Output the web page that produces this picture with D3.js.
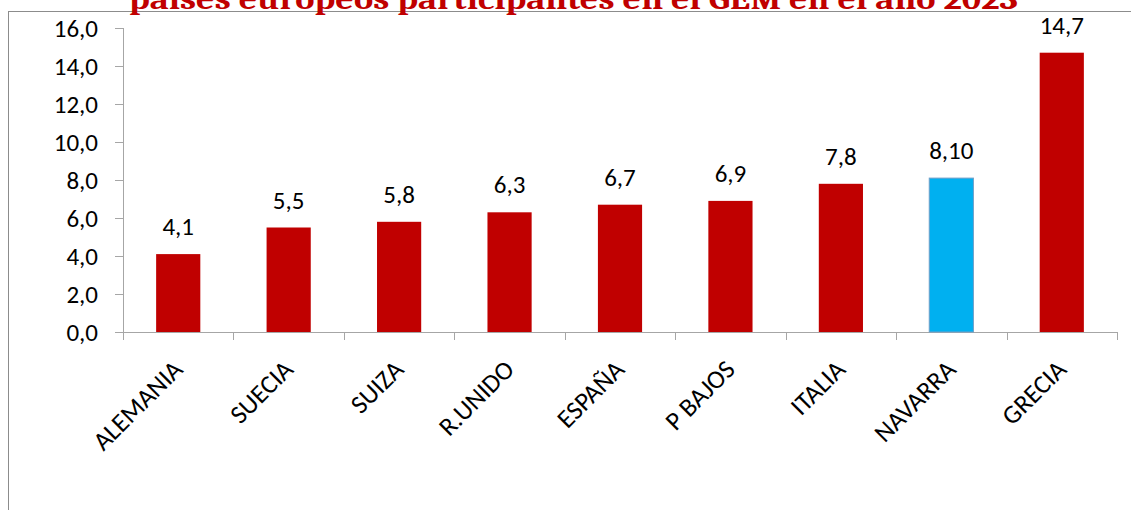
<!DOCTYPE html>
<html>
<head>
<meta charset="utf-8">
<script src="https://cdn.jsdelivr.net/npm/d3@7/dist/d3.min.js"></script>
<style>
  html, body { margin: 0; padding: 0; background: #fff; }
  svg { display: block; }
</style>
</head>
<body>
<div id="chart"></div>
<script>
// chart data
var categories = ['ALEMANIA', 'SUECIA', 'SUIZA', 'R.UNIDO', 'ESPAÑA', 'P BAJOS', 'ITALIA', 'NAVARRA', 'GRECIA'];
var values = [4.1, 5.5, 5.8, 6.3, 6.7, 6.9, 7.8, 8.1, 14.7];
var valueLabels = ['4,1', '5,5', '5,8', '6,3', '6,7', '6,9', '7,8', '8,10', '14,7'];
var highlighted = ['NAVARRA'];
var yTicks = [0, 2, 4, 6, 8, 10, 12, 14, 16];
var title = 'países europeos participantes en el GEM en el año 2023';

var W = 1131, H = 510;
var plot = { left: 123, right: 1117, top: 28, bottom: 332 };
var labelFont = 'Carlito, Lato, "Open Sans", sans-serif';

var svg = d3.select('#chart').append('svg')
  .attr('width', W).attr('height', H);

// outer frame (clipped by the window)
svg.append('rect')
  .attr('x', 8.5).attr('y', 11.5)
  .attr('width', W + 20).attr('height', H + 20)
  .attr('fill', 'none')
  .attr('stroke', '#8c8c8c')
  .attr('stroke-width', 1);

// title, mostly cut off at the top
svg.append('text')
  .attr('x', 129).attr('y', 8.5)
  .attr('font-family', 'Cambria, "DejaVu Serif", serif')
  .attr('font-weight', 'bold')
  .attr('font-size', 30)
  .attr('fill', '#c00000')
  .attr('textLength', 889)
  .attr('lengthAdjust', 'spacingAndGlyphs')
  .text(title);

var x = d3.scaleBand().domain(categories).range([plot.left, plot.right]).padding(0);
var y = d3.scaleLinear().domain([0, 16]).range([plot.bottom, plot.top]);
var barW = x.bandwidth() * 0.4;

// y axis
var yAxis = svg.append('g')
  .attr('transform', 'translate(' + plot.left + ',0)')
  .call(d3.axisLeft(y).tickValues(yTicks).tickSize(8).tickPadding(17)
    .tickFormat(function (d) { return d.toFixed(1).replace('.', ','); }));
yAxis.select('.domain').attr('stroke', '#a6a6a6').attr('d', 'M0.5,' + plot.top + 'V' + plot.bottom);
yAxis.selectAll('.tick line').attr('stroke', '#a6a6a6');
yAxis.selectAll('.tick text')
  .attr('font-family', labelFont).attr('font-size', 25).attr('fill', '#000');

// x axis: line plus boundary ticks
var xg = svg.append('g');
xg.append('line')
  .attr('x1', plot.left).attr('x2', plot.right)
  .attr('y1', plot.bottom + 0.5).attr('y2', plot.bottom + 0.5)
  .attr('stroke', '#a6a6a6');
var bounds = categories.map(function (c) { return x(c); }).concat([plot.right]);
xg.selectAll('.xt').data(bounds).join('line').attr('class', 'xt')
  .attr('x1', function (d) { return Math.round(d) + 0.5; })
  .attr('x2', function (d) { return Math.round(d) + 0.5; })
  .attr('y1', plot.bottom).attr('y2', plot.bottom + 8)
  .attr('stroke', '#a6a6a6');

xg.selectAll('.xl').data(categories).join('text').attr('class', 'xl')
  .attr('transform', function (d) {
    var cx = x(d) + x.bandwidth() / 2 + 6;
    return 'translate(' + cx + ',' + 371 + ') rotate(-45)';
  })
  .attr('text-anchor', 'end')
  .attr('font-family', labelFont).attr('font-size', 26).attr('fill', '#000')
  .text(function (d) { return d; });

// bars
svg.selectAll('.bar').data(categories).join('rect').attr('class', 'bar')
  .attr('x', function (d) { return x(d) + (x.bandwidth() - barW) / 2; })
  .attr('y', function (d, i) { return y(values[i]); })
  .attr('width', barW)
  .attr('height', function (d, i) { return y(0) - y(values[i]); })
  .attr('fill', function (d) { return highlighted.indexOf(d) >= 0 ? '#00b0f0' : '#c00000'; })
  .attr('stroke', function (d) { return highlighted.indexOf(d) >= 0 ? '#6f9fc8' : 'none'; })
  .attr('stroke-width', 1);

// value labels
svg.selectAll('.vl').data(categories).join('text').attr('class', 'vl')
  .attr('x', function (d) { return x(d) + x.bandwidth() / 2; })
  .attr('y', function (d, i) { return y(values[i]) - 19; })
  .attr('text-anchor', 'middle')
  .attr('font-family', labelFont).attr('font-size', 25).attr('fill', '#000')
  .text(function (d, i) { return valueLabels[i]; });
</script>
</body>
</html>
